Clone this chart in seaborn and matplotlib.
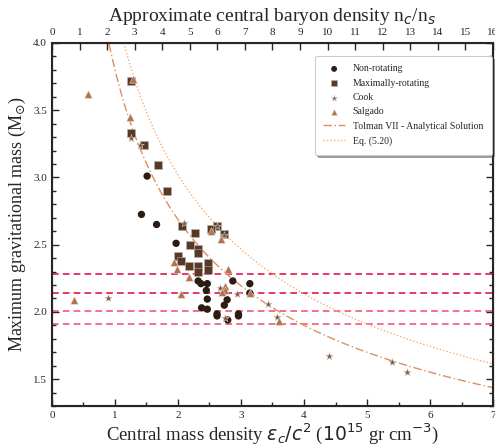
import numpy as np
import pandas as pd
import matplotlib
matplotlib.use("Agg")
import matplotlib.pyplot as plt
import seaborn as sns

# ---- data ----
nonrot_eps = [1.51, 1.42, 1.66, 1.97, 2.32, 2.365, 2.465, 2.87, 3.14, 2.45, 3.14,
              2.465, 2.78, 2.735, 2.375, 2.465, 2.62, 2.62, 2.96, 2.96, 2.79]
nonrot_m = [3.01, 2.725, 2.65, 2.51, 2.23, 2.21, 2.21, 2.23, 2.21, 2.16, 2.14,
            2.095, 2.09, 2.05, 2.03, 2.02, 1.985, 1.97, 1.985, 1.97, 1.94]

maxrot_eps = [1.26, 1.26, 1.465, 1.69, 1.82, 2.06, 2.27, 2.52, 2.62, 2.735, 2.19,
              2.32, 2.32, 2.00, 2.05, 2.18, 2.32, 2.32, 2.47, 2.47]
maxrot_m = [3.715, 3.33, 3.24, 3.09, 2.90, 2.64, 2.59, 2.62, 2.64, 2.58, 2.50,
            2.47, 2.44, 2.415, 2.38, 2.34, 2.34, 2.30, 2.36, 2.31]

cook_eps = [1.26, 1.397, 2.09, 2.62, 2.735, 0.894, 2.67, 2.93, 3.43, 2.75, 3.57,
            4.40, 5.40, 5.63]
cook_m = [3.29, 3.24, 2.66, 2.64, 2.57, 2.105, 2.18, 2.13, 2.055, 1.955, 1.96,
          1.67, 1.63, 1.555]

salg_eps = [0.577, 1.29, 1.243, 2.52, 2.68, 1.94, 1.99, 2.80, 2.17, 2.74, 2.75,
            2.70, 2.05, 3.61, 0.344, 3.14]
salg_m = [3.62, 3.73, 3.45, 2.60, 2.54, 2.37, 2.32, 2.32, 2.26, 2.19, 2.16,
          2.145, 2.13, 1.93, 2.09, 2.14]

mass_limits = [2.28, 2.14, 2.01, 1.91]
limit_alpha = [1.0, 1.0, 0.7, 0.7]

tolman_coef = 3.80     # M = C / sqrt(eps)
eq520_coef = 4.27

top_ticks = list(range(0, 17))
bottom_ticks = list(range(0, 8))
left_ticks = [1.5, 2.0, 2.5, 3.0, 3.5, 4.0]

# ---- style ----
sns.set_style("ticks")
plt.rcParams["font.family"] = ["Liberation Serif", "DejaVu Sans"]
plt.rcParams["mathtext.fontset"] = "dejavusans"

pal = sns.color_palette("copper", 6)

frames = []
for name, e, m in [("Non-rotating", nonrot_eps, nonrot_m),
                   ("Maximally-rotating", maxrot_eps, maxrot_m),
                   ("Cook", cook_eps, cook_m),
                   ("Salgado", salg_eps, salg_m)]:
    frames.append(pd.DataFrame({"eps": e, "M": m, "model": name}))
df = pd.concat(frames, ignore_index=True)

fig = plt.figure(figsize=(4.95, 4.46), dpi=100)
ax = fig.add_axes([0.105, 0.0897, 0.891, 0.8139])

styles = {
    "Non-rotating": dict(marker="o", s=28, color=pal[0], ec="none"),
    "Maximally-rotating": dict(marker="s", s=34, color=pal[1], ec=(0.7, 0.7, 0.7)),
    "Cook": dict(marker="*", s=32, color=pal[2], ec=(0.8, 0.8, 0.8)),
    "Salgado": dict(marker="^", s=30, color=pal[3], ec=(0.85, 0.85, 0.85)),
}
for name, st in styles.items():
    sub = df[df["model"] == name]
    sns.scatterplot(data=sub, x="eps", y="M", ax=ax, label=name,
                    marker=st["marker"], s=st["s"], color=st["color"],
                    edgecolor=st["ec"], linewidth=0.4, zorder=3)

xs = np.linspace(0.05, 7, 400)
sns.lineplot(x=xs, y=tolman_coef / np.sqrt(xs), ax=ax, color=pal[4], lw=1.0,
             linestyle=(0, (6, 2, 1, 2)), label="Tolman VII - Analytical Solution",
             zorder=2)
sns.lineplot(x=xs, y=eq520_coef / np.sqrt(xs), ax=ax, color=pal[5], lw=1.0,
             linestyle=(0, (1, 1.5)), label="Eq. (5.20)", zorder=2)

for v, a in zip(mass_limits, limit_alpha):
    ax.axhline(v, color="#e3174b", lw=1.2, linestyle=(0, (4, 2.5)), alpha=a, zorder=1)

ax.set_xlim(0, 7)
ax.set_ylim(1.3, 4.0)
ax.set_xticks(bottom_ticks)
ax.set_xticks(np.arange(0, 7.01, 0.5), minor=True)
ax.set_yticks(left_ticks)
ax.set_yticks(np.arange(1.3, 4.001, 0.1), minor=True)
ax.tick_params(which="both", direction="in", labelsize=8, right=True, width=1)
ax.tick_params(which="major", length=5)
ax.tick_params(which="minor", length=3)
ax.set_xlabel(r"Central mass density $\epsilon_c/c^2$ ($10^{15}$ gr cm$^{-3}$)",
              fontsize=13.5, labelpad=1)
ax.set_ylabel(r"Maximum gravitational mass (M$_{\odot}$)", fontsize=13, labelpad=4)
for sp in ax.spines.values():
    sp.set_linewidth(1.5)

ax2 = ax.twiny()
ax2.set_xlim(0, 16)
ax2.set_xticks(top_ticks)
ax2.tick_params(direction="in", labelsize=8, length=5, width=1, pad=4)
ax2.set_xlabel(r"Approximate central baryon density n$_c$/n$_s$", fontsize=14,
               labelpad=5)

leg = ax.legend(loc="upper right", fontsize=7, frameon=True, shadow=True,
                fancybox=True, borderpad=0.9, labelspacing=0.55,
                handlelength=2.2, markerscale=0.8, borderaxespad=0,
                bbox_to_anchor=(0.997, 0.965))
leg.get_frame().set_edgecolor("#cccccc")
leg.get_frame().set_linewidth(0.8)

fig.savefig("out.png", dpi=100)
